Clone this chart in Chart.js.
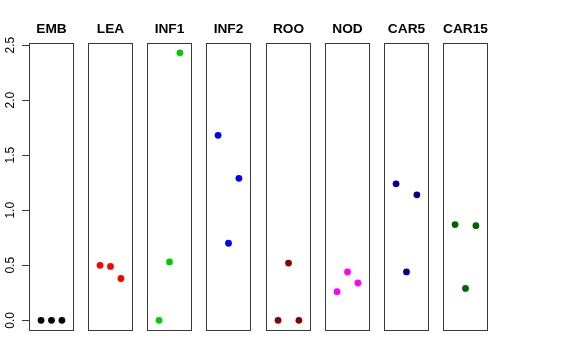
<!doctype html>
<html lang="en">
<head>
	<meta charset="utf-8">
	<title>Panels</title>
	<style>
		body { margin: 0; background: #fff; }
		#wrap { position: relative; width: 576px; height: 360px; }
		#wrap canvas { position: absolute; top: 0; }
	</style>
</head>
<body>
	<div id="wrap"></div>
	<script src="https://cdn.jsdelivr.net/npm/chart.js@4.4.1/dist/chart.umd.min.js"></script>
	<script>
		// one small panel per tissue, three samples each
		var tissues = ['EMB', 'LEA', 'INF1', 'INF2', 'ROO', 'NOD', 'CAR5', 'CAR15'];
		var colours = ['#000000', '#ff0000', '#00cd00', '#0000ff', '#8b0000', '#ff00ff', '#00008b', '#006400'];
		var samples = [1, 2, 3];

		var emb   = [0.00, 0.00, 0.00];
		var lea   = [0.50, 0.49, 0.38];
		var inf1  = [0.00, 0.53, 2.43];
		var inf2  = [1.68, 0.70, 1.29];
		var roo   = [0.00, 0.52, 0.00];
		var nod   = [0.26, 0.44, 0.34];
		var car5  = [1.24, 0.44, 1.14];
		var car15 = [0.87, 0.29, 0.86];
		var series = [emb, lea, inf1, inf2, roo, nod, car5, car15];

		var yTicks = [0, 0.5, 1.0, 1.5, 2.0, 2.5];

		var panelLeft = [29, 88, 147, 206, 266, 325, 384, 443];
		var panelWidth = 45;
		var axisWidth = 29;

		var boxPlugin = {
			id: 'box',
			afterDraw: function(chart)
			{
				var a = chart.chartArea;
				var ctx = chart.ctx;
				ctx.save();
				ctx.strokeStyle = '#3a3a3a';
				ctx.lineWidth = 1;
				ctx.strokeRect(a.left + 0.5, a.top + 0.5, a.right - a.left - 1, a.bottom - a.top - 1);
				ctx.restore();
			}
		};

		var wrap = document.getElementById('wrap');

		tissues.forEach(function(name, i)
		{
			var first = (i === 0);
			var canvas = document.createElement('canvas');
			var left = first ? 0 : panelLeft[i] - 2;
			var width = first ? axisWidth + panelWidth + 2 : panelWidth + 4;
			canvas.width = width;
			canvas.height = 360;
			canvas.style.left = left + 'px';
			wrap.appendChild(canvas);

			var points = samples.map(function(s, k) { return { x: s, y: series[i][k] }; });

			new Chart(canvas, {
				type: 'scatter',
				data: {
					datasets: [{
						data: points,
						backgroundColor: colours[i],
						borderWidth: 0,
						pointRadius: 3.4,
						pointHoverRadius: 3.4
					}]
				},
				options: {
					responsive: false,
					animation: false,
					devicePixelRatio: 1,
					layout: { autoPadding: false, padding: { left: first ? 0 : 2, right: 2, top: 0, bottom: 29 } },
					plugins: {
						legend: { display: false },
						tooltip: { enabled: false },
						title: {
							display: true,
							text: name,
							fullSize: false,
							color: '#000',
							font: { family: 'Liberation Sans, Arial, sans-serif', size: 13.7, weight: 'bold', lineHeight: 1.2 },
							padding: { top: 21, bottom: 5.56 }
						}
					},
					scales: {
						x: { type: 'linear', display: false, min: -0.16, max: 4.16 },
						y: {
							type: 'linear',
							display: first,
							min: -0.097,
							max: 2.519,
							afterBuildTicks: function(scale) { scale.ticks = yTicks.map(function(v) { return { value: v }; }); },
							afterFit: function(scale) { scale.width = first ? axisWidth : 0; },
							border: { display: false },
							grid: { drawOnChartArea: false, drawTicks: true, tickLength: 7, color: '#3a3a3a' },
							ticks: {
								color: '#000',
								minRotation: 90,
								maxRotation: 90,
								crossAlign: 'center',
								padding: 3,
								font: { family: 'Liberation Sans, Arial, sans-serif', size: 12 },
								callback: function(v) { return Number(v).toFixed(1); }
							}
						}
					}
				},
				plugins: [boxPlugin]
			});
		});
	</script>
</body>
</html>
